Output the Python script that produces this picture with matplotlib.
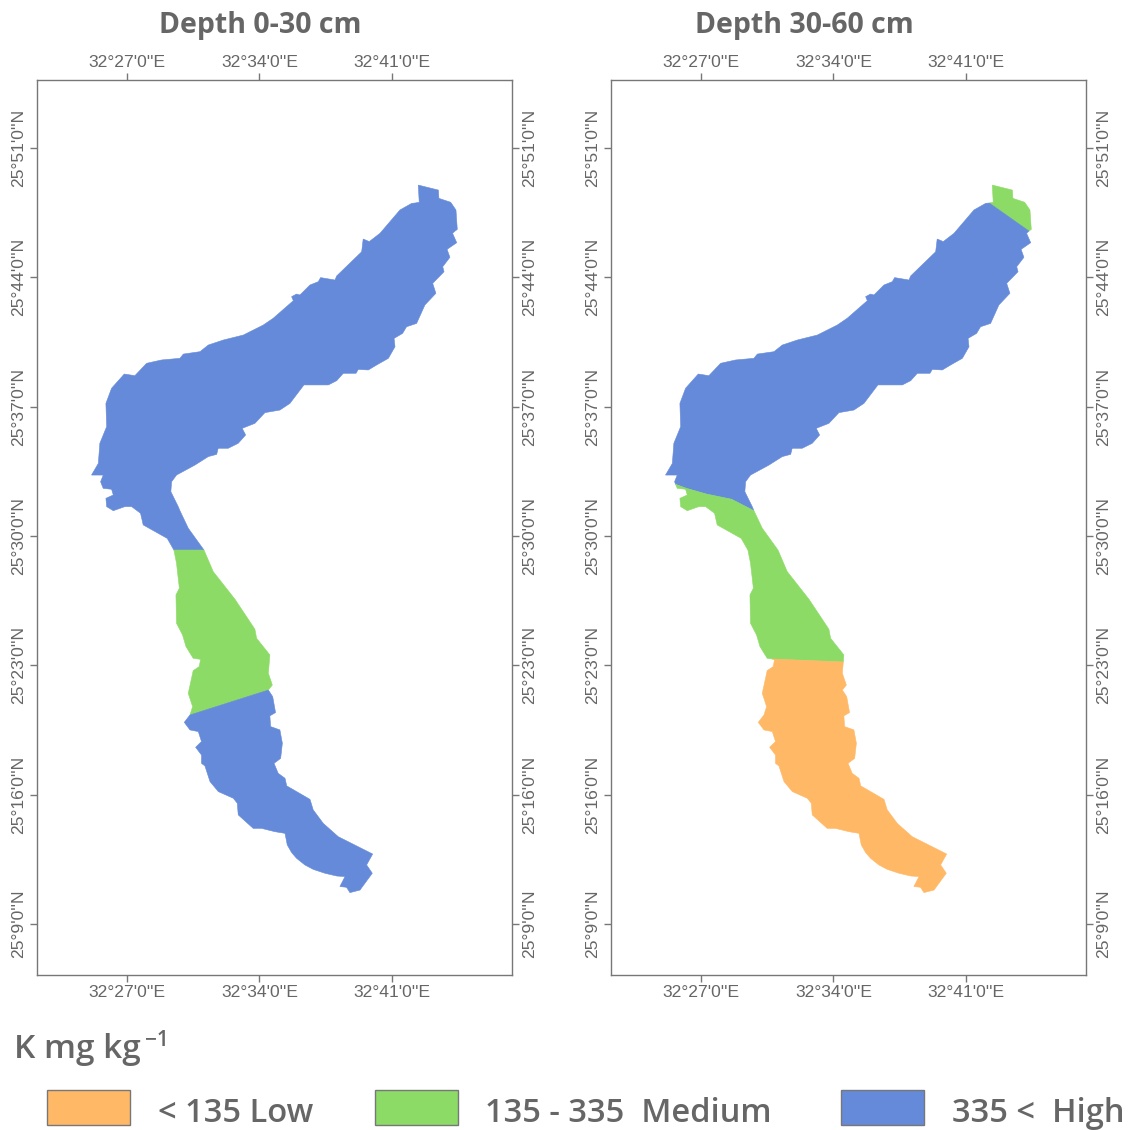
import matplotlib
matplotlib.use("Agg")
import matplotlib.pyplot as plt
from matplotlib.patches import Polygon, Rectangle

W, H = 1129, 1130
GREY = "#666666"
LOW, MED, HIGH = "#FFB866", "#8CDB66", "#658AD9"

# Study-area outline: arc-minutes east of 32 deg and north of 25 deg, clockwise from the northern tip
outline_lon = [
    42.39, 43.45, 43.48, 44.10, 44.38, 44.45, 44.33, 44.20, 44.42, 43.91, 44.06, 43.68, 43.75, 43.15, 43.32,
    42.74, 42.30, 41.77, 41.56, 41.11, 41.16, 40.81, 40.19, 39.75, 39.22, 39.10, 38.43, 38.08, 37.64, 36.35,
    35.61, 35.08, 34.29, 33.76, 33.09, 33.27, 32.88, 32.35, 31.82, 31.74, 31.30, 30.59, 29.62, 29.36, 29.32,
    29.71, 29.80, 30.24, 31.07, 31.56, 32.71, 33.76, 33.85, 34.55, 34.52, 34.47, 34.68, 34.47, 34.70, 34.85,
    34.55, 34.59, 35.08, 35.21, 35.12, 34.77, 34.99, 35.35, 35.44, 36.67, 36.84, 37.37, 38.16, 39.98, 39.66,
    39.96, 39.31, 38.78, 38.60, 38.25, 38.52, 38.08, 37.46, 36.84, 36.40, 35.96, 35.70, 35.47, 35.35, 34.82,
    34.11, 33.67, 32.88,
    32.83, 32.62, 31.83, 31.39, 31.12, 30.94, 30.94, 30.63, 30.94, 30.77, 30.33, 30.03, 30.33, 30.47, 30.24,
    30.50, 30.82, 30.89, 30.77, 30.50, 30.12, 29.94, 29.62, 29.59, 29.77, 29.62, 29.48, 29.13, 27.86, 27.72,
    27.25, 26.89, 26.28, 25.93, 25.89, 26.28, 26.19, 25.75, 25.66, 25.61, 25.75, 25.13, 25.49, 25.57, 25.93,
    25.89, 26.19, 26.86, 27.42, 28.04, 28.83, 29.80, 29.98, 30.86, 31.30, 32.09, 33.15, 34.20, 34.73, 35.79,
    35.70, 35.96, 36.14, 36.67, 37.11, 37.23, 37.99, 38.08, 39.40, 39.48, 39.80, 40.37, 41.42, 42.04, 42.23,
    42.44,
]
outline_lat = [
    49.00, 48.73, 48.28, 48.07, 47.65, 46.60, 46.51, 46.39, 45.88, 45.52, 45.09, 44.58, 44.31, 43.68, 43.14,
    42.51, 41.51, 41.33, 40.97, 40.70, 40.25, 39.62, 39.26, 38.99, 39.02, 38.81, 38.81, 38.41, 38.18, 38.18,
    37.18, 36.82, 36.68, 36.10, 35.83, 35.47, 35.02, 34.75, 34.75, 34.42, 34.30, 33.84, 33.30, 32.94, 32.40,
    31.59, 31.37, 30.42, 29.24, 28.07, 26.57, 24.95, 24.46, 23.56, 23.18, 22.57, 21.93, 21.66, 21.30, 20.44,
    20.26, 19.68, 19.50, 18.78, 17.96, 17.69, 17.15, 16.88, 16.47, 15.74, 15.17, 14.44, 13.72, 12.78, 12.19,
    11.74, 10.83, 10.69, 10.98, 11.02, 11.56, 11.59, 11.74, 11.95, 12.19, 12.55, 12.86, 13.27, 13.90, 13.99,
    14.17, 14.17, 14.90,
    15.53, 15.80, 16.16, 16.70, 17.55, 17.69, 18.14, 18.56, 18.87, 19.41, 19.50, 19.91, 20.31, 20.76, 21.48,
    22.71, 22.93, 23.32, 23.34, 23.38, 24.01, 24.64, 25.27, 26.81, 27.17, 28.52, 29.24, 29.87, 30.60, 31.23,
    31.59, 31.59, 31.37, 31.59, 32.04, 32.22, 32.53, 32.58, 32.80, 32.94, 33.30, 33.30, 33.93, 35.02, 35.92,
    37.18, 38.00, 38.77, 38.68, 39.35, 39.53, 39.62, 39.85, 39.98, 40.34, 40.61, 40.88, 41.42, 41.79, 42.74,
    42.96, 43.10, 43.05, 43.59, 43.77, 43.99, 43.86, 44.08, 45.39, 46.08, 45.94, 46.39, 47.65, 48.01, 48.03,
    48.07,
]

# Zone boundaries where they meet the outline (lon, lat in arc-minutes)
upper_0_30 = ((31.07, 29.24), (29.48, 29.24))
lower_0_30 = ((34.47, 21.66), (30.33, 20.31))
north_30_60 = ((42.23, 48.03), (44.33, 46.51))
middle_30_60 = ((29.80, 31.37), (25.66, 32.80))
middle_30_60_bend = [(28.62, 31.99), (27.30, 32.27), (26.24, 32.58)]
south_30_60 = ((34.52, 23.18), (30.77, 23.34))

lon_ticks = [27, 34, 41]
lat_ticks = [9, 16, 23, 30, 37, 44, 51]
lon_limits = (22.25, 47.34)
lat_limits = (6.23, 54.69)
titles = ["Depth 0-30 cm", "Depth 30-60 cm"]
legend_title = "K mg kg"
legend_labels = ["< 135 Low", "135 - 335  Medium", "335 <  High"]

pts = list(zip(outline_lon, outline_lat))


def arc(a, b):
    """Outline vertices walking clockwise from a to b inclusive."""
    i, j = pts.index(a), pts.index(b)
    return pts[i:j + 1] if i <= j else pts[i:] + pts[:j + 1]


def fill(ax, verts, color):
    ax.add_patch(Polygon(verts, closed=True, facecolor=color, edgecolor=color, linewidth=0.4))


plt.rcParams["font.family"] = ["Liberation Sans", "DejaVu Sans"]
fig = plt.figure(figsize=(W / 100, H / 100), dpi=100, facecolor="white")


def make_axes(left_px):
    ax = fig.add_axes([left_px / W, 1 - 975 / H, 475 / W, 895 / H])
    ax.set_xlim(lon_limits)
    ax.set_ylim(lat_limits)
    ax.set_xticks(lon_ticks)
    ax.set_xticklabels([f"32°{v}'0''E" for v in lon_ticks])
    ax.set_yticks(lat_ticks)
    ax.set_yticklabels([f"25°{v}'0''N" for v in lat_ticks], rotation=90, va="center")
    ax.tick_params(top=True, bottom=True, left=True, right=True,
                   labeltop=True, labelbottom=True, labelleft=True, labelright=True,
                   direction="out", length=5, width=1, color="#777777",
                   labelcolor=GREY, labelsize=12.6, pad=2.5)
    for lab in ax.get_yticklabels():
        lab.set_rotation(90)
    for s in ax.spines.values():
        s.set_color("#777777")
        s.set_linewidth(1)
    return ax


ax1 = make_axes(37)
ax2 = make_axes(611)

# Depth 0-30 cm
fill(ax1, arc(upper_0_30[1], upper_0_30[0]), HIGH)
fill(ax1, arc(upper_0_30[0], lower_0_30[0]) + arc(lower_0_30[1], upper_0_30[1]), MED)
fill(ax1, arc(lower_0_30[0], lower_0_30[1]), HIGH)

# Depth 30-60 cm
fill(ax2, arc(north_30_60[0], north_30_60[1]), MED)
fill(ax2, arc(north_30_60[1], middle_30_60[0]) + middle_30_60_bend + arc(middle_30_60[1], north_30_60[0]), HIGH)
fill(ax2, arc(middle_30_60[0], south_30_60[0]) + arc(south_30_60[1], middle_30_60[1]) + middle_30_60_bend[::-1], MED)
fill(ax2, arc(south_30_60[0], south_30_60[1]), LOW)

semi = dict(family=["Open Sans", "DejaVu Sans"], fontweight="semibold", color=GREY)
head = dict(family=["Open Sans", "DejaVu Sans"], fontweight="bold", color=GREY)
fig.text(260.5 / W, 1 - 26 / H, titles[0], ha="center", va="center", fontsize=20.5, **head)
fig.text(804.5 / W, 1 - 26 / H, titles[1], ha="center", va="center", fontsize=20.5, **head)

fig.text(14 / W, 1 - 1050 / H, legend_title, ha="left", va="center", fontsize=24, **semi)
fig.text(145 / W, 1 - 1041 / H, "\u22121", ha="left", va="center", fontsize=15, **semi)

for x0, colr, x_text, label in zip([47, 375, 841], [LOW, MED, HIGH], [158, 485, 952], legend_labels):
    fig.add_artist(Rectangle((x0 / W, 1 - 1125 / H), 83 / W, 35 / H, transform=fig.transFigure,
                             facecolor=colr, edgecolor="#777777", linewidth=1))
    fig.text(x_text / W, 1 - 1114 / H, label, ha="left", va="center", fontsize=23.5, **semi)

fig.savefig("out.png", dpi=100)
